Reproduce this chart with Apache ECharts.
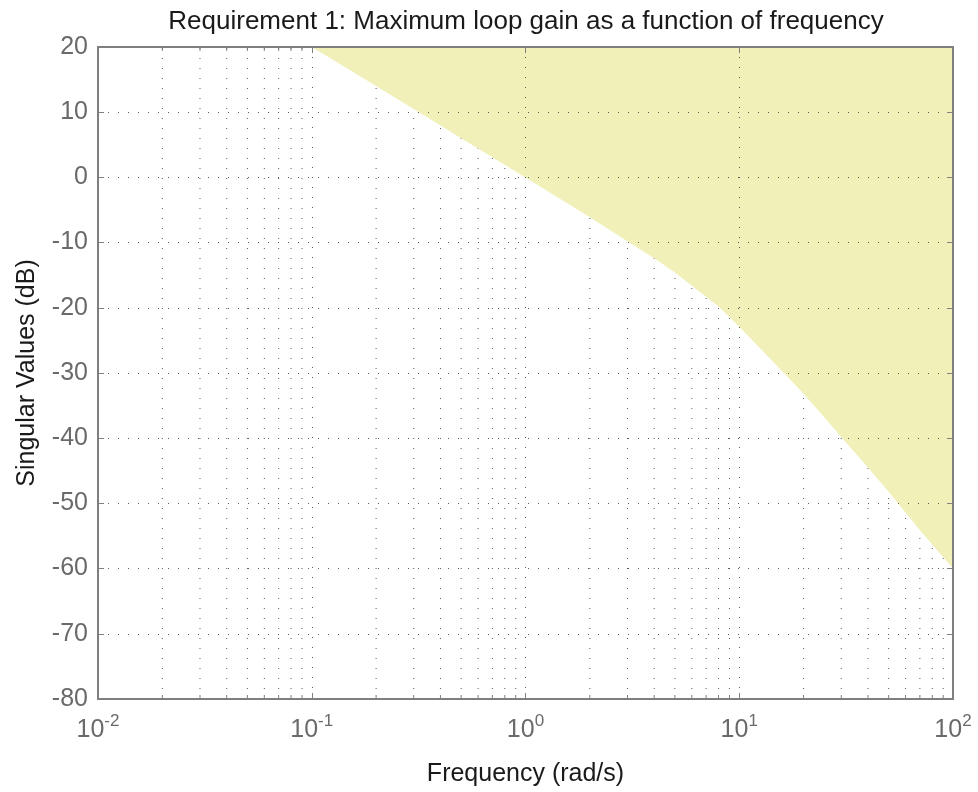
<!DOCTYPE html>
<html>
<head>
<meta charset="utf-8">
<script src="https://cdn.jsdelivr.net/npm/echarts@6/dist/echarts.min.js"></script>
<style>
  html, body { margin: 0; padding: 0; background: #fff; }
  #chart { width: 978px; height: 792px; }
</style>
</head>
<body>
<div id="chart"></div>
<script>
// requirement bound
var freq = [0.1, 0.15, 0.2, 0.3, 0.5, 0.7, 1, 1.5, 2, 3, 4, 5, 6, 7, 8, 10, 12, 15, 20, 25, 30, 40, 50, 70, 100]
var gainDb = [20, 16.5, 14, 10.5, 6, 3.1, 0, -3.6, -6.1, -9.8, -12.4, -14.6, -16.6, -18.3, -19.8, -22.9, -25.6, -28.9, -33.2, -36.8, -39.8, -44.5, -48.2, -54.1, -60]

// minor grid positions on the log axis
var minorFreq = [
  0.02, 0.03, 0.04, 0.05, 0.06, 0.07, 0.08, 0.09,
  0.2, 0.3, 0.4, 0.5, 0.6, 0.7, 0.8, 0.9,
  2, 3, 4, 5, 6, 7, 8, 9,
  20, 30, 40, 50, 60, 70, 80, 90
]
var yTicks = { min: -80, max: 20, step: 10 }
var xRange = { min: 0.01, max: 100 }

var FONT = 'Liberation Sans, Arial, sans-serif'
var GRAY = '#7f7f7f'
var DOT = '#5a5a5a'
var LABEL = '#6a6a6a'
var dotted = [1, 9]

var mychart = echarts.init(document.getElementById('chart'))

var boxAxis = {
  axisLine: { show: true, onZero: false, lineStyle: { color: GRAY, width: 2 } },
  axisTick: { show: true, inside: true, length: 6, lineStyle: { color: GRAY, width: 1 } },
  z: 10
}

mychart.setOption({
  animation: false,
  title: {
    text: 'Requirement 1: Maximum loop gain as a function of frequency',
    left: 521,
    textAlign: 'center',
    top: 4,
    textStyle: { fontFamily: FONT, fontSize: 26, fontWeight: 'normal', color: '#1a1a1a' }
  },
  grid: { left: 98, top: 47, right: 25, bottom: 92, containLabel: false },
  xAxis: [
    Object.assign({}, boxAxis, {
      type: 'log',
      logBase: 10,
      min: xRange.min,
      max: xRange.max,
      position: 'bottom',
      name: 'Frequency (rad/s)',
      nameLocation: 'middle',
      nameGap: 63,
      nameTextStyle: { fontFamily: FONT, fontSize: 25, color: '#1a1a1a' },
      axisLabel: {
        margin: 14,
        formatter: function (v) {
          var e = Math.round(Math.log10(v))
          return '{b|10}{e|' + e + '}'
        },
        rich: {
          b: { fontFamily: FONT, fontSize: 25, color: LABEL, lineHeight: 30, verticalAlign: 'bottom' },
          e: { fontFamily: FONT, fontSize: 17, color: LABEL, lineHeight: 30, verticalAlign: 'top' }
        }
      },
      splitLine: { show: true, lineStyle: { color: DOT, type: dotted, width: 1 } }
    }),
    Object.assign({}, boxAxis, {
      type: 'log',
      logBase: 10,
      min: xRange.min,
      max: xRange.max,
      position: 'top',
      axisLabel: { show: false },
      splitLine: { show: false }
    })
  ],
  yAxis: [
    Object.assign({}, boxAxis, {
      type: 'value',
      min: yTicks.min,
      max: yTicks.max,
      interval: yTicks.step,
      position: 'left',
      name: 'Singular Values (dB)',
      nameLocation: 'middle',
      nameGap: 58,
      nameTextStyle: { fontFamily: FONT, fontSize: 25, color: '#1a1a1a' },
      axisLabel: { margin: 10, fontFamily: FONT, fontSize: 25, color: LABEL },
      splitLine: { show: true, lineStyle: { color: DOT, type: dotted, width: 1 } }
    }),
    Object.assign({}, boxAxis, {
      type: 'value',
      min: yTicks.min,
      max: yTicks.max,
      interval: yTicks.step,
      position: 'right',
      axisLabel: { show: false },
      splitLine: { show: false }
    })
  ],
  series: [
    {
      // minor dotted grid + short minor ticks top and bottom
      type: 'custom',
      silent: true,
      z: 1,
      data: minorFreq.map(function (f) { return [f, yTicks.min] }),
      renderItem: function (params, api) {
        var f = api.value(0)
        var b = api.coord([f, yTicks.min])
        var t = api.coord([f, yTicks.max])
        var st = { stroke: GRAY, lineWidth: 1 }
        return {
          type: 'group',
          children: [
            { type: 'line', shape: { x1: b[0], y1: b[1], x2: t[0], y2: t[1] }, style: { stroke: DOT, lineWidth: 1, lineDash: dotted } },
            { type: 'line', shape: { x1: b[0], y1: b[1], x2: b[0], y2: b[1] - 4 }, style: st },
            { type: 'line', shape: { x1: t[0], y1: t[1], x2: t[0], y2: t[1] + 4 }, style: st }
          ]
        }
      }
    },
    {
      name: 'bound',
      type: 'line',
      z: 3,
      silent: true,
      showSymbol: false,
      data: freq.map(function (f, i) { return [f, gainDb[i]] }),
      lineStyle: { width: 0 },
      areaStyle: { color: '#f0f0b8', opacity: 1, origin: 'end' }
    }
  ]
})
</script>
</body>
</html>
